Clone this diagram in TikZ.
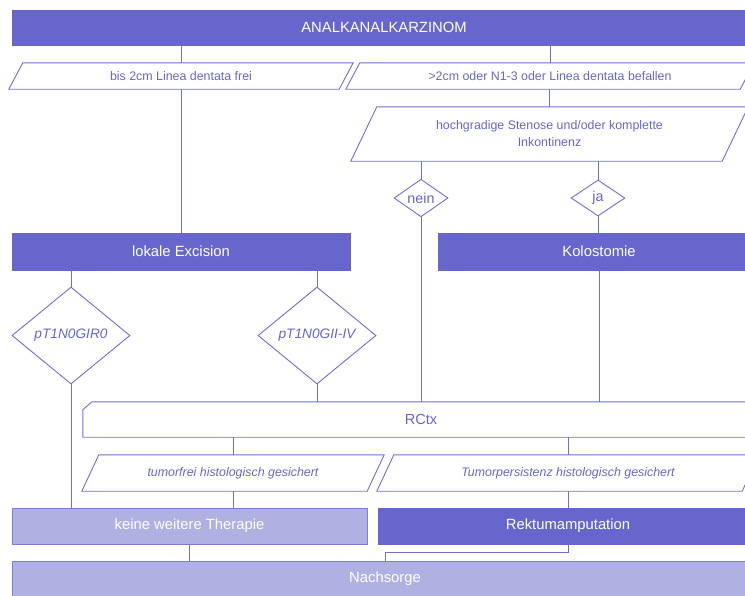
\documentclass[tikz,border=0pt]{standalone}
\usepackage{fontspec}
\setmainfont{Liberation Sans}
\usetikzlibrary{shapes.geometric,calc}
\definecolor{dk}{RGB}{102,102,204}
\definecolor{lt}{RGB}{176,176,226}
\definecolor{ln}{RGB}{110,110,214}
\definecolor{ltb}{RGB}{125,125,216}
\begin{document}
\begin{tikzpicture}[x=1pt,y=-1pt,
  conn/.style={draw=ln, line width=0.9pt},
  outl/.style={draw=ln, line width=0.9pt},
  bigf/.style={font=\fontsize{14.8}{17}\selectfont},
  smallf/.style={font=\fontsize{12.4}{17}\selectfont},
  dbox/.style={rectangle, fill=dk, draw=dk, text=white, inner sep=0pt, bigf},
  lbox/.style={rectangle, fill=lt, draw=ltb, line width=0.9pt, text=white, inner sep=0pt, bigf},
  plabel/.style={rectangle, inner sep=0pt, text=dk, smallf, align=center},
  dia/.style={diamond, draw=ln, line width=0.9pt, fill=white, inner sep=0pt, text=dk, font=\fontsize{14.3}{17}\selectfont},
]
\path[use as bounding box] (0,0) rectangle (745,595);
\clip (0,0) rectangle (745,595);

% nodes
\node[dbox, minimum width=744pt, minimum height=35pt] (top) at (384,27.5) {ANALKANALKARZINOM};
\node[plabel, minimum width=344pt, minimum height=26pt] (p1) at (181,76) {bis 2cm Linea dentata frei};
\node[plabel, minimum width=408pt, minimum height=26pt] (p2) at (550,76) {>2cm oder N1-3 oder Linea dentata befallen};
\node[plabel, minimum width=397pt, minimum height=54pt] (p3) at (549.5,134) {hochgradige Stenose und/oder komplette\\Inkontinenz};
\node[dbox, minimum width=338pt, minimum height=37pt] (lokale) at (181,251.5) {lokale Excision};
\node[dbox, minimum width=322pt, minimum height=37pt] (kolo) at (599,251.5) {Kolostomie};
\node[plabel, minimum width=676pt, minimum height=35pt, font=\fontsize{14.6}{17}\selectfont] (rctx) at (421,419.5) {RCtx};
\node[plabel, minimum width=302pt, minimum height=36pt, font=\fontsize{12.4}{17}\selectfont\itshape] (p4) at (233,473) {tumorfrei histologisch gesichert};
\node[plabel, minimum width=382pt, minimum height=36pt, font=\fontsize{12.4}{17}\selectfont\itshape] (p5) at (568,473) {Tumorpersistenz histologisch gesichert};
\node[lbox, minimum width=355pt, minimum height=36pt] (keine) at (189.5,526) {keine weitere Therapie};
\node[dbox, minimum width=380pt, minimum height=36pt] (rekt) at (568,526) {Rektumamputation};
\node[lbox, minimum width=746pt, minimum height=36pt] (nach) at (385,579) {Nachsorge};

% outlines of parallelograms and RCtx
\draw[outl] (p1.south west) -- ([xshift=-14pt]p1.south east) -- (p1.north east) -- ([xshift=14pt]p1.north west) -- cycle;
\draw[outl] (p2.south west) -- ([xshift=-14pt]p2.south east) -- (p2.north east) -- ([xshift=14pt]p2.north west) -- cycle;
\draw[outl] (p3.south west) -- ([xshift=-26pt]p3.south east) -- (p3.north east) -- ([xshift=26pt]p3.north west) -- cycle;
\draw[outl] (p4.south west) -- ([xshift=-17pt]p4.south east) -- (p4.north east) -- ([xshift=17pt]p4.north west) -- cycle;
\draw[outl] (p5.south west) -- ([xshift=-17pt]p5.south east) -- (p5.north east) -- ([xshift=17pt]p5.north west) -- cycle;
\draw[outl] ([xshift=9pt]rctx.north west) -- (rctx.north east) -- (rctx.south east) -- (rctx.south west) -- ([yshift=-8pt]rctx.north west) -- cycle;

% diamonds
\node[dia, minimum width=54pt, minimum height=36pt] (nein) at (421,198) {nein};
\node[dia, minimum width=54pt, minimum height=36pt] (ja) at (598,198) {ja};
\node[dia, minimum width=118pt, minimum height=97pt, font=\fontsize{13.7}{17}\selectfont\itshape] (d1) at (71,335.5) {pT1N0GIR0};
\node[dia, minimum width=118pt, minimum height=97pt, font=\fontsize{13.7}{17}\selectfont\itshape] (d2) at (317,335.5) {pT1N0GII-IV};

% connectors
\draw[conn] (p1.north) -- (p1.north |- top.south);
\draw[conn] (p2.north) -- (p2.north |- top.south);
\draw[conn] (p1.south) -- (lokale.north);
\draw[conn] (p3.north) -- (p3.north |- p2.south);
\draw[conn] (nein.north) -- (nein.north |- p3.south);
\draw[conn] (ja.north) -- (ja.north |- p3.south);
\draw[conn] (ja.south) -- (ja.south |- kolo.north);
\draw[conn] (nein.south) -- (nein.south |- rctx.north);
\draw[conn] (d1.north) -- (d1.north |- lokale.south);
\draw[conn] (d2.north) -- (d2.north |- lokale.south);
\draw[conn] (d2.south) -- (d2.south |- rctx.north);
\draw[conn] (kolo.south) -- (kolo.south |- rctx.north);
\draw[conn] (d1.south) -- (d1.south |- keine.north);
\draw[conn] (p4.north) -- (p4.north |- rctx.south);
\draw[conn] (p5.north) -- (p5.north |- rctx.south);
\draw[conn] (p4.south) -- (p4.south |- keine.north);
\draw[conn] (p5.south) -- (rekt.north);
\draw[conn] (keine.south) -- (keine.south |- nach.north);
\draw[conn] (rekt.south) -- ++(0,8) -| (nach.north);
\end{tikzpicture}
\end{document}
